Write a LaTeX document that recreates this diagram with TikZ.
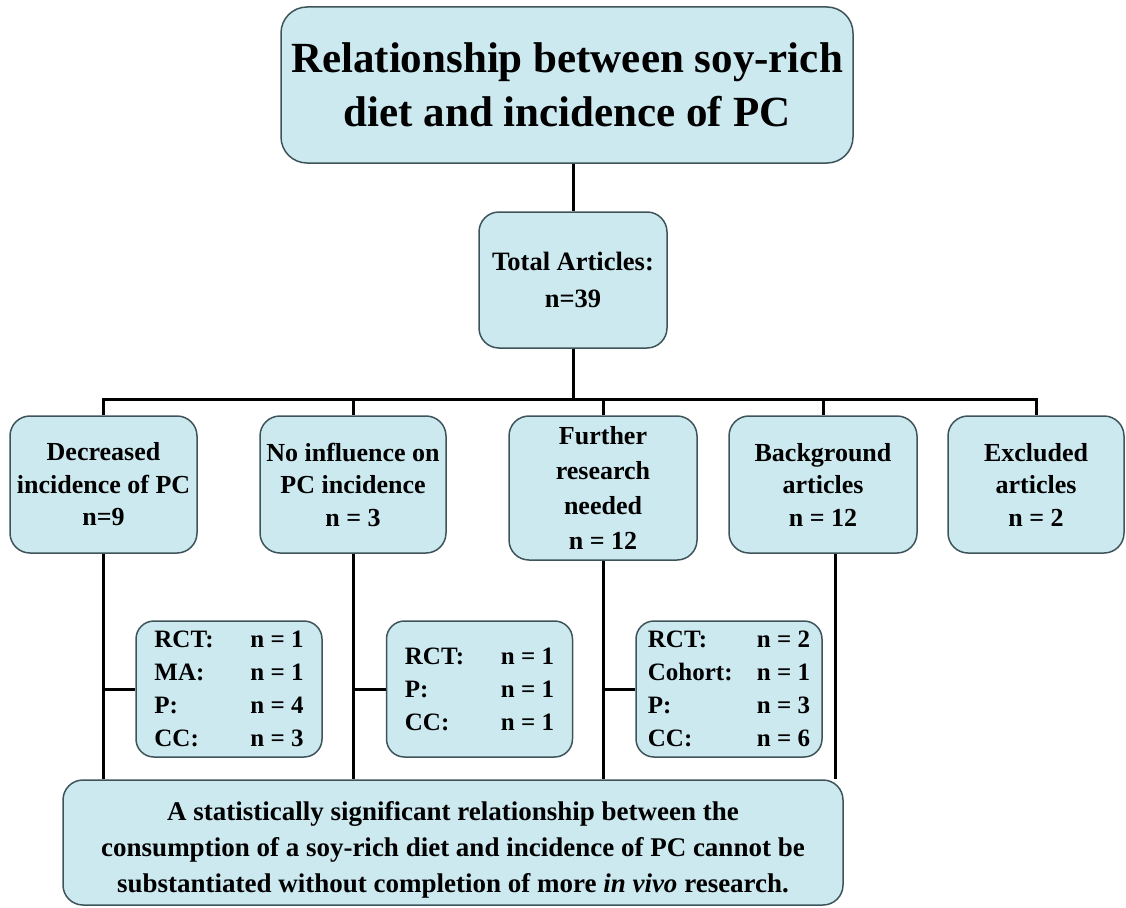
\documentclass[tikz,border=0pt]{standalone}
\usepackage{fontspec}
\setmainfont{Liberation Serif}
\definecolor{boxfill}{RGB}{205,233,240}
\definecolor{boxline}{RGB}{62,84,90}
\newcommand{\subrow}[3][96pt]{\makebox[#1][l]{#2}#3}

\begin{document}
\begin{tikzpicture}[x=1pt,y=-1pt,
    box/.style={draw=boxline,fill=boxfill,line width=1.5pt,rounded corners=20pt,inner sep=0pt,align=center,
      font=\fontsize{26}{32.5}\selectfont\bfseries},
    subbox/.style={box,minimum width=186pt,minimum height=136pt,rounded corners=18pt,align=left,
      font=\fontsize{25}{33}\selectfont\bfseries},
    link/.style={line width=3pt}]
  \useasboundingbox (0,0) rectangle (1126,907);

  \node[box,minimum width=572pt,minimum height=156pt,rounded corners=26pt,
    font=\fontsize{43}{54}\selectfont\bfseries](title) at (567,85) {Relationship between soy-rich\\diet and incidence of PC};
  \node[box,minimum width=188pt,minimum height=136pt,
    font=\fontsize{26.5}{37}\selectfont\bfseries](total) at (573,280) {Total Articles:\\n=39};

  \node[box,minimum width=187pt,minimum height=137pt](dec) at (103.5,484.5) {Decreased\\incidence of PC\\n=9};
  \node[box,minimum width=186pt,minimum height=137pt](noinf) at (353,484.5) {No influence on\\PC incidence\\n = 3};
  \node[box,minimum width=188pt,minimum height=144pt,
    font=\fontsize{26}{35}\selectfont\bfseries](further) at (603,488) {Further\\research\\needed\\n = 12};
  \node[box,minimum width=188pt,minimum height=137pt](backg) at (823,484.5) {Background\\articles\\n = 12};
  \node[box,minimum width=176pt,minimum height=137pt](excl) at (1036,484.5) {Excluded\\articles\\n = 2};

  \node[subbox](decsub) at (229,689) {\subrow{RCT:}{n = 1}\\\subrow{MA:}{n = 1}\\\subrow{P:}{n = 4}\\\subrow{CC:}{n = 3}};
  \node[subbox](noinfsub) at (479.5,689) {\subrow{RCT:}{n = 1}\\\subrow{P:}{n = 1}\\\subrow{CC:}{n = 1}};
  \node[subbox](furthersub) at (729,689) {\subrow[109pt]{RCT:}{n = 2}\\\subrow[109pt]{Cohort:}{n = 1}\\\subrow[109pt]{P:}{n = 3}\\\subrow[109pt]{CC:}{n = 6}};

  \node[box,minimum width=780pt,minimum height=125pt,
    font=\fontsize{27}{36}\selectfont\bfseries](concl) at (453,842.5) {\rule{0pt}{33pt}A statistically significant relationship between the\\consumption of a soy-rich diet and incidence of PC cannot be\\substantiated without completion of more \textit{in vivo} research.};

  \coordinate (bar) at (573,399);

  % tree
  \draw[link] (title.south -| total) -- (total);
  \draw[link] (total) -- (bar);
  \draw[link] (dec.north) |- (bar) -| (excl.north);
  \draw[link] (noinf.north |- bar) -- (noinf.north);
  \draw[link] (further.north |- bar) -- (further.north);
  \draw[link] (backg.north |- bar) -- (backg.north);

  % down to the conclusion
  \draw[link] (dec.south) -- (dec.south |- concl.north);
  \draw[link] (noinf.south) -- (noinf.south |- concl.north);
  \draw[link] (further.south) -- (further.south |- concl.north);
  \draw[link] ([xshift=12pt]backg.south) -- ([xshift=12pt]backg.south |- concl.north);

  \draw[link] (decsub.west -| dec.south) -- (decsub.west);
  \draw[link] (noinfsub.west -| noinf.south) -- (noinfsub.west);
  \draw[link] (furthersub.west -| further.south) -- (furthersub.west);
\end{tikzpicture}
\end{document}
